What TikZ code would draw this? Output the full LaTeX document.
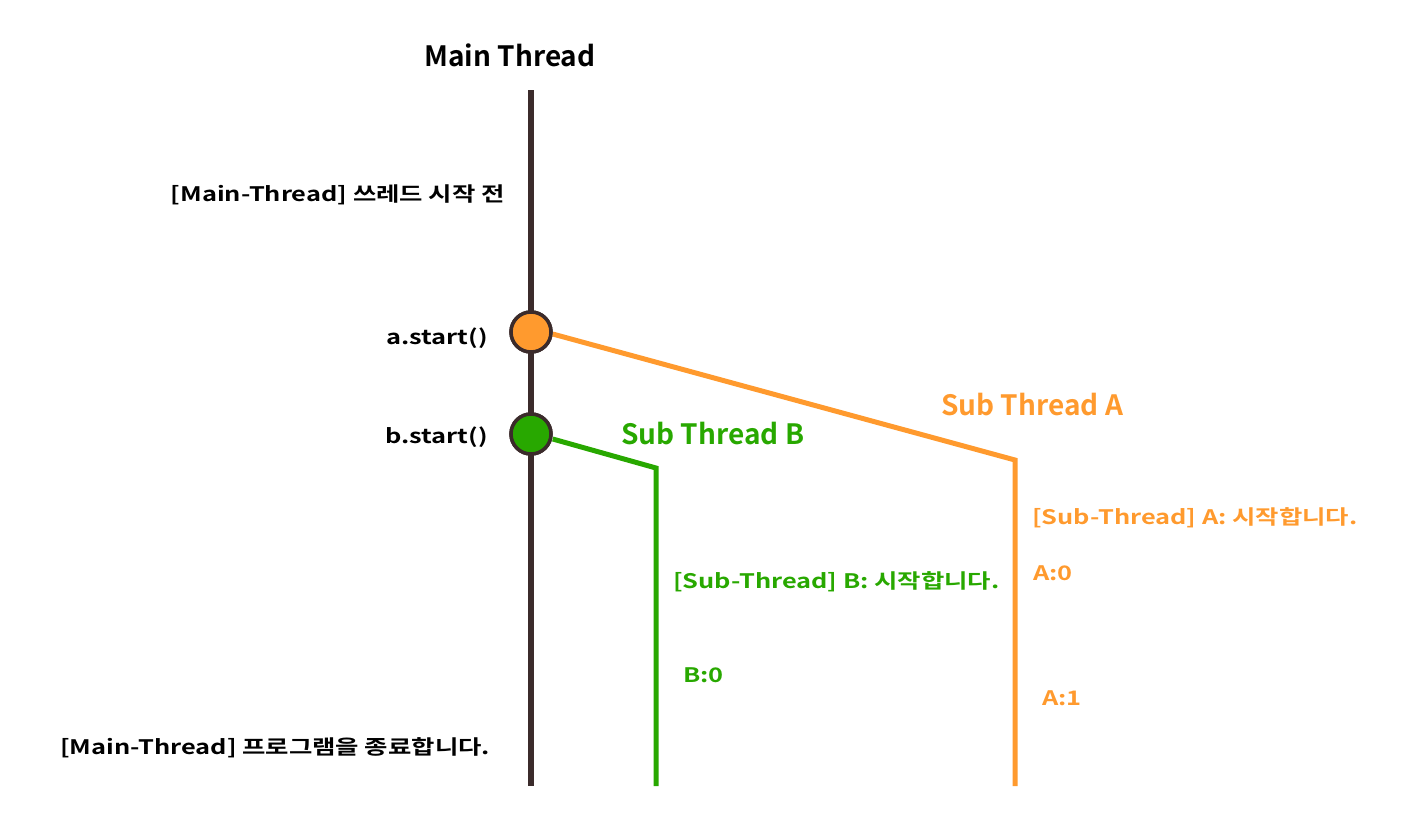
\documentclass[tikz,border=0pt]{standalone}
\usepackage{fontspec}
\setmainfont{Noto Sans CJK KR}[BoldFont={* Bold}]
\definecolor{mainc}{HTML}{3B2B2B}
\definecolor{orc}{HTML}{FF9A2E}
\definecolor{grc}{HTML}{28A800}
\newcommand{\widetxt}[1]{\scalebox{1.27}[1]{#1}}
\tikzset{
  lbl/.style={inner sep=0pt, font=\bfseries\fontsize{20}{22}\selectfont},
  big/.style={inner sep=0pt, font=\bfseries\fontsize{28}{30}\selectfont},
  dot/.style={circle, minimum size=40pt, inner sep=0pt, draw=mainc, line width=3.5pt},
  thr/.style={line width=5pt}
}
\begin{document}
\begin{tikzpicture}[x=1pt,y=-1pt]
\useasboundingbox (0,0) rectangle (1417,823);
% main thread
\coordinate (mtop) at (531,90);
\coordinate (mbot) at (531,786);
\draw[mainc, line width=6pt] (mtop) -- (mbot);
% sub thread lines
\coordinate (aturn) at (1015,460);
\coordinate (abot) at (1015,786);
\coordinate (bturn) at (656,468);
\coordinate (bbot) at (656,786);
\node[dot, fill=orc] (astart) at (531,332) {};
\node[dot, fill=grc] (bstart) at (531,434) {};
\draw[orc, thr] (astart.east) ++(0,2) -- (aturn) -- (abot);
\draw[grc, thr] (bstart.east) ++(0,5) -- (bturn) -- (bbot);
\node[dot, fill=orc] at (astart) {};
\node[dot, fill=grc] at (bstart) {};
% labels
\node[big, anchor=center] (mt) at (510,55) {Main Thread};
\node[lbl, anchor=east] (l1) at (505,195) {\widetxt{[Main-Thread] 쓰레드 시작 전}};
\node[lbl, anchor=east] (l2) at (488,338) {\widetxt{a.start()}};
\node[lbl, anchor=east] (l3) at (488,437) {\widetxt{b.start()}};
\node[big, anchor=west, text=orc] (sa) at (941,405) {Sub Thread A};
\node[big, anchor=west, text=grc] (sb) at (621,434) {Sub Thread B};
\node[lbl, anchor=west, text=orc] (a1) at (1032,518) {\widetxt{[Sub-Thread] A: 시작합니다.}};
\node[lbl, anchor=west, text=orc] (a2) at (1033,573) {\widetxt{A:0}};
\node[lbl, anchor=west, text=orc] (a3) at (1042,698) {\widetxt{A:1}};
\node[lbl, anchor=west, text=grc] (b1) at (673,582) {\widetxt{[Sub-Thread] B: 시작합니다.}};
\node[lbl, anchor=west, text=grc] (b2) at (683,675) {\widetxt{B:0}};
\node[lbl, anchor=west] (l4) at (60,748) {\widetxt{[Main-Thread] 프로그램을 종료합니다.}};
\end{tikzpicture}
\end{document}
